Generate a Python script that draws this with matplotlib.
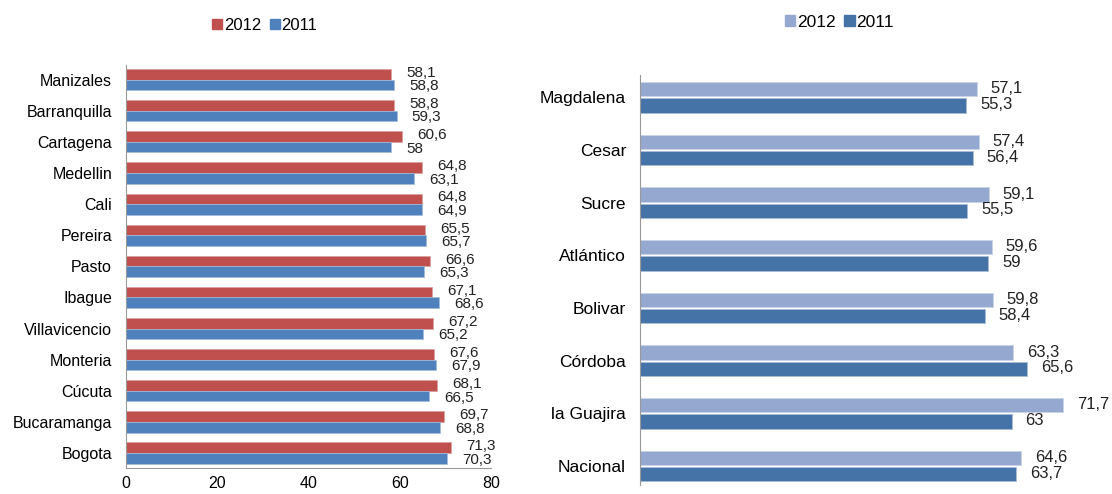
import matplotlib.pyplot as plt
import numpy as np
from matplotlib.patches import Patch

plt.rcParams['font.family'] = ['Liberation Sans', 'DejaVu Sans']

# left chart: cities
ciudades = ["Manizales", "Barranquilla", "Cartagena", "Medellin", "Cali", "Pereira", "Pasto",
            "Ibague", "Villavicencio", "Monteria", "Cúcuta", "Bucaramanga", "Bogota"]
ciud_2012 = [58.1, 58.8, 60.6, 64.8, 64.8, 65.5, 66.6, 67.1, 67.2, 67.6, 68.1, 69.7, 71.3]
ciud_2011 = [58.8, 59.3, 58, 63.1, 64.9, 65.7, 65.3, 68.6, 65.2, 67.9, 66.5, 68.8, 70.3]

# right chart: departments
deptos = ["Magdalena", "Cesar", "Sucre", "Atlántico", "Bolivar", "Córdoba", "la Guajira", "Nacional"]
dep_2012 = [57.1, 57.4, 59.1, 59.6, 59.8, 63.3, 71.7, 64.6]
dep_2011 = [55.3, 56.4, 55.5, 59, 58.4, 65.6, 63, 63.7]


def fmt(v):
    s = f'{v:g}'
    return s.replace('.', ',')


fig = plt.figure(figsize=(11.12, 4.94), dpi=100)

# ---- left
ax1 = fig.add_axes([0.1133, 0.0526, 0.3282, 0.8158])
y = np.arange(len(ciudades))
h = 0.34
ax1.barh(y - h / 2, ciud_2012, height=h, color='#C0504D', edgecolor='#D9A09E', linewidth=0.5)
ax1.barh(y + h / 2, ciud_2011, height=h, color='#4F81BD', edgecolor='#A3BCDD', linewidth=0.5)
for i in range(len(ciudades)):
    ax1.annotate(fmt(ciud_2012[i]), (ciud_2012[i], y[i] - h / 2), xytext=(11, 1), textcoords='offset points',
                 ha='left', va='center', fontsize=11, color='#222222')
    ax1.annotate(fmt(ciud_2011[i]), (ciud_2011[i], y[i] + h / 2), xytext=(11, -1), textcoords='offset points',
                 ha='left', va='center', fontsize=11, color='#222222')
ax1.set_xlim(0, 80)
ax1.set_ylim(len(ciudades) - 1 + 0.48, -0.47)
ax1.set_yticks(y)
ax1.set_yticklabels(ciudades, fontsize=11.5)
ax1.set_xticks([0, 20, 40, 60, 80])
ax1.tick_params(axis='y', length=0, pad=10)
ax1.tick_params(axis='x', length=0, pad=6, labelsize=11.5)
for s in ['top', 'right']:
    ax1.spines[s].set_visible(False)
ax1.spines['left'].set_color('#999999')
ax1.spines['bottom'].set_color('#999999')
fig.legend(handles=[Patch(color='#C0504D', label='2012'), Patch(color='#4F81BD', label='2011')],
           loc='center', bbox_to_anchor=(0.238, 0.949), ncol=2, frameon=False, fontsize=12,
           handlelength=0.6, handleheight=0.6, handletextpad=0.1, columnspacing=0.5)

# ---- right
ax2 = fig.add_axes([0.5755, 0.018, 0.4245, 0.83])
y2 = np.arange(len(deptos))
h2 = 0.27
ax2.barh(y2 - h2 / 2 - 0.02, dep_2012, height=h2, color='#95A9D0', edgecolor='#C9D4E8', linewidth=0.6)
ax2.barh(y2 + h2 / 2 + 0.02, dep_2011, height=h2, color='#4673A7', edgecolor='#A8BCD6', linewidth=0.6)
for i in range(len(deptos)):
    ax2.annotate(fmt(dep_2012[i]), (dep_2012[i], y2[i] - h2 / 2), xytext=(10, 1), textcoords='offset points',
                 ha='left', va='center', fontsize=12, color='#222222')
    ax2.annotate(fmt(dep_2011[i]), (dep_2011[i], y2[i] + h2 / 2), xytext=(10, 0), textcoords='offset points',
                 ha='left', va='center', fontsize=12, color='#222222')
ax2.set_xlim(0, 80)
ax2.set_ylim(len(deptos) - 1 + 0.36, -0.42)
ax2.set_yticks(y2)
ax2.set_yticklabels(deptos, fontsize=12.5)
ax2.set_xticks([])
ax2.tick_params(axis='y', length=0, pad=10)
for s in ['top', 'right', 'bottom']:
    ax2.spines[s].set_visible(False)
ax2.spines['left'].set_color('#999999')
fig.legend(handles=[Patch(color='#95A9D0', label='2012'), Patch(color='#4673A7', label='2011')],
           loc='center', bbox_to_anchor=(0.755, 0.955), ncol=2, frameon=False, fontsize=12.5,
           handlelength=0.6, handleheight=0.6, handletextpad=0.1, columnspacing=0.5)

fig.savefig('out.png', dpi=100)
